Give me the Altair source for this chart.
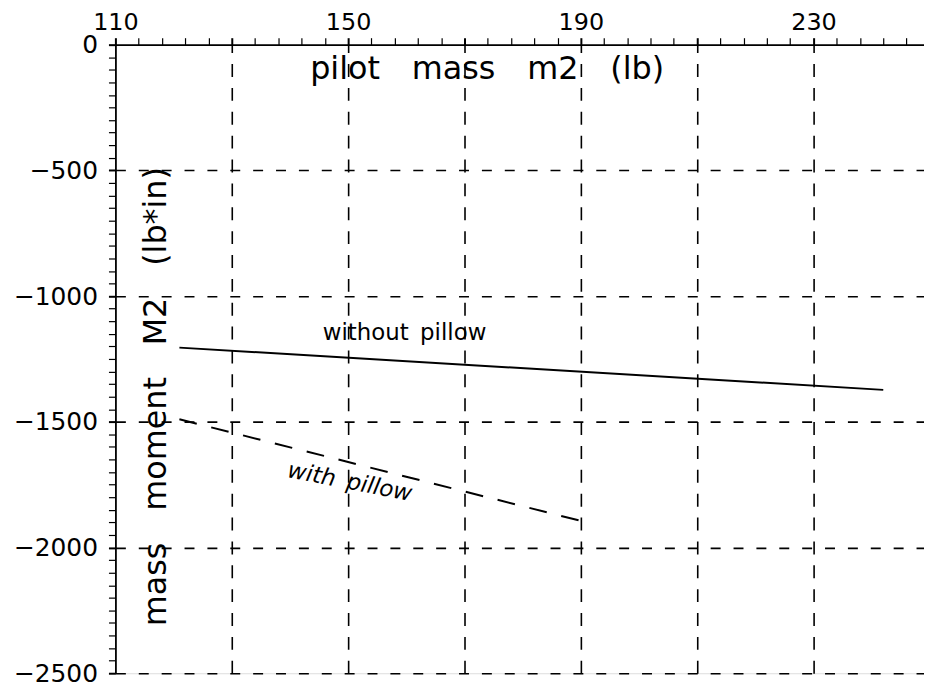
import altair as alt
import pandas as pd

# ---- data ----
mass_without = [121, 242]
moment_without = [-1205, -1373]
mass_with = [121, 191]
moment_with = [-1490, -1900]

x_tick_values = list(range(110, 250, 4))
y_tick_values = list(range(0, -2501, -50))

FONT = "DejaVu Sans"

x_scale = alt.Scale(domain=[110, 249], nice=False, zero=False)
y_scale = alt.Scale(domain=[-2500, 0], nice=False, zero=False)

x_axis = alt.Axis(
    orient="top", values=x_tick_values, title=None, format="d",
    labelExpr="(datum.value - 110) % 40 == 0 ? datum.label : ''",
    labelOverlap=False, labelFlush=False, labelBound=False,
    labelFont=FONT, labelFontSize=24, labelColor="black", labelPadding=3,
    domainColor="black", domainWidth=1.8,
    tickColor="black", tickSize=7,
    tickWidth={"condition": {"test": "(datum.value - 110) % 20 == 0", "value": 2}, "value": 1.2},
    grid=True, gridColor="black", gridWidth=1.6, gridDash=[13, 11],
    gridOpacity={"condition": {"test": "(datum.value - 110) % 20 == 0 && datum.value > 110", "value": 1}, "value": 0},
)
y_axis = alt.Axis(
    orient="left", values=y_tick_values, title=None, format="d",
    labelExpr="datum.value % 500 == 0 ? datum.label : ''",
    labelOverlap=False, labelFlush=False, labelBound=False,
    labelFont=FONT, labelFontSize=25, labelColor="black", labelPadding=11,
    domainColor="black", domainWidth=1.8,
    tickColor="black", tickSize=7,
    tickWidth={"condition": {"test": "datum.value % 500 == 0", "value": 2}, "value": 1.2},
    grid=True, gridColor="black", gridWidth=1.6, gridDash=[10, 13],
    gridOpacity={"condition": {"test": "datum.value % 500 == 0 && datum.value < 0", "value": 1}, "value": 0},
)

x_enc = alt.X("mass:Q", scale=x_scale, axis=x_axis)
y_enc = alt.Y("moment:Q", scale=y_scale, axis=y_axis)

df_without = pd.DataFrame({"mass": mass_without, "moment": moment_without})
df_with = pd.DataFrame({"mass": mass_with, "moment": moment_with})

line_without = alt.Chart(df_without).mark_line(color="black", strokeWidth=2).encode(x=x_enc, y=y_enc)
line_with = alt.Chart(df_with).mark_line(color="black", strokeWidth=2, strokeDash=[18, 15]).encode(x=x_enc, y=y_enc)

x_title = alt.Chart(pd.DataFrame({"mass": [173.9], "moment": [-138], "t": ["pilot\u2003mass\u2003m2\u2003(lb)"]})).mark_text(
    font=FONT, fontSize=32, color="black", align="center", baseline="alphabetic"
).encode(x=x_enc, y=y_enc, text="t:N")

y_title = alt.Chart(pd.DataFrame({"mass": [118.7], "moment": [-1400], "t": ["mass\u2003moment\u2003M2\u2003(lb*in)"]})).mark_text(
    font=FONT, fontSize=32, color="black", align="center", baseline="alphabetic", angle=270
).encode(x=x_enc, y=y_enc, text="t:N")

lbl_without = alt.Chart(pd.DataFrame({"mass": [159.7], "moment": [-1175], "t": ["without\u2002pillow"]})).mark_text(
    font=FONT, fontSize=23, color="black", align="center", baseline="alphabetic"
).encode(x=x_enc, y=y_enc, text="t:N")

lbl_with = alt.Chart(pd.DataFrame({"mass": [150.3], "moment": [-1740], "t": ["with\u2002pillow"]})).mark_text(
    font=FONT, fontSize=23, color="black", align="center", baseline="middle", angle=11, fontStyle="italic"
).encode(x=x_enc, y=y_enc, text="t:N")

chart = alt.layer(line_without, line_with, x_title, y_title, lbl_without, lbl_with).properties(
    width=813, height=632,
    padding={"left": 108, "top": 35, "right": 0, "bottom": 14},
    autosize=alt.AutoSizeParams(type="none"),
).configure_view(stroke=None).configure(background="white")

chart.save("out.html", embed_options={"renderer": "svg", "actions": False})
